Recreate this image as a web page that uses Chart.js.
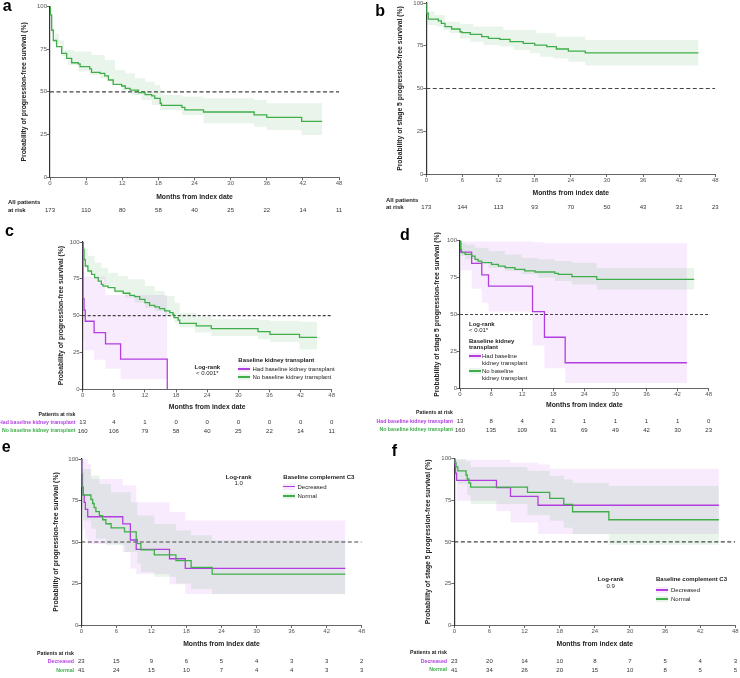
<!DOCTYPE html>
<html>
<head>
<meta charset="utf-8">
<script src="https://cdn.jsdelivr.net/npm/chart.js@4.4.1/dist/chart.umd.min.js"></script>
<style>
  body { margin: 0; background: #fff; }
  #fig { position: relative; width: 740px; height: 678px; overflow: hidden;
         font-family: "Liberation Sans", Arial, sans-serif; }
  #fig canvas { position: absolute; }
  .t { position: absolute; white-space: nowrap; color: #222; }
  .sw { position: absolute; width: 12px; height: 6px; }
  .sw i { position: absolute; left: 0; right: 0; top: 2.2px; height: 1.5px; }
</style>
</head>
<body>
<div id="fig"></div>
<script>
// ---- data ----
const months = [0, 6, 12, 18, 24, 30, 36, 42, 48];

// a: all patients, progression-free survival
const aCurve = [[0,100],[0.05,95],[0.28,86],[0.55,80],[1.1,76.4],[1.94,72.5],[2.77,69.6],[3.6,67],[4.7,66.3],[5,64.7],[6.6,63.4],[6.9,61.4],[8.3,60.8],[9.1,59.3],[9.7,56.9],[10.5,54.4],[11.9,53.4],[12.5,52],[13.3,51],[14.7,49.5],[15.8,48.3],[16.9,47.6],[17.4,46.2],[18.3,43.3],[18.5,42.1],[21.9,40.9],[22.4,39.4],[25.5,38.2],[33.9,36.5],[36,35.1],[41.8,32.7],[45.2,32.7]];
const aUpper = [[0,100],[0.3,87],[0.8,84],[1.5,80],[2.3,74.5],[4,73.5],[6.9,71.5],[9.1,68.6],[10.8,62.8],[12.5,60.8],[14.1,57.9],[15.8,55.9],[17.4,54],[18.3,52],[18.5,48.1],[21.9,47.2],[25.5,46.2],[33.9,45.2],[36,43.3],[45.2,43.3]];
const aLower = [[0,100],[0.1,88],[0.3,84],[0.8,78],[1.9,70.6],[3,65.7],[4.7,61.8],[6.6,59.8],[8.3,57.9],[10.2,55],[11.9,51],[13.6,48.1],[15.2,45.2],[16.9,42.3],[18.3,39.4],[21.9,36.5],[25.5,31.6],[33.9,29.6],[36,27.7],[41.8,24.8],[45.2,24.8]];
const aRisk = [173, 110, 80, 58, 40, 25, 22, 14, 11];

// b: all patients, stage 5 progression-free survival
const bCurve = [[0,100],[0.05,94],[0.33,90.6],[2,89.6],[2.5,88.1],[3.1,86.2],[4.2,84.8],[5.6,83.2],[5.9,82.7],[7.3,81.7],[9.2,80.3],[10.3,79.3],[12.2,78.7],[13.9,77.4],[16.1,76.4],[18,75.4],[20,74.5],[21.6,73.1],[23.6,71.9],[26.4,70.8],[45.2,70.8]];
const bUpper = [[0,100],[0.05,95],[1.4,93],[3.1,89],[5.6,87.7],[7.8,86.2],[12.8,84.2],[18.3,82.3],[21.5,80.3],[26.4,78.4],[45.2,78.4]];
const bLower = [[0,100],[0.05,87.1],[1.7,86.2],[2.8,84.2],[3.9,82.3],[5.6,79.3],[7.3,77.4],[9.5,75.4],[12.2,74.5],[14.5,72.5],[17.2,70.6],[18.9,68.6],[21.1,67.6],[23.6,65.7],[26.4,63.4],[45.2,63.4]];
const bRisk = [173, 144, 113, 93, 70, 50, 43, 31, 23];

// c: by baseline kidney transplant, progression-free survival
const cHadCurve = [[0,100],[0.05,61.5],[0.25,53.8],[0.5,46.2],[2.2,38.5],[4.4,30.8],[7.3,20.5],[16.3,0]];
const cHadUpper = [[0,100],[0.05,80],[0.3,76.5],[4.4,64],[16.3,64]];
const cHadLower = [[0,100],[0.05,33],[0.3,26.5],[2.2,20],[4.4,14],[7.3,6.8],[16.3,6.8]];
const cNoCurve = [[0,100],[0.13,95],[0.26,88],[0.5,83.7],[1,80.3],[1.7,78],[2.3,75.8],[3,73.5],[3.6,71.3],[3.9,70.1],[4.9,69],[6.2,66.7],[7.8,65.2],[9.1,63.8],[10,62.9],[11,61.1],[12,58.8],[12.9,57],[13.9,55.9],[14.8,54.8],[15.8,53.2],[16.8,52],[17.4,50.9],[17.6,48.6],[18.4,47],[18.7,44.8],[21.9,43],[24.8,41.2],[33.8,39.1],[36.1,37.3],[41.8,35.3],[45.2,35.3]];
const cNoUpper = [[0,100],[0.2,97],[0.5,95],[1,90.5],[2.3,86],[3.6,82.6],[4.9,79.2],[6.8,76.9],[8.7,74.7],[12,70.1],[13.9,66.7],[15.8,63.3],[17.7,58.8],[18.7,52],[21.9,49],[24.8,47.5],[33.8,47],[36.1,46.5],[41.8,45.9],[45.2,45.9]];
const cNoLower = [[0,100],[0.13,88],[0.4,82.6],[1,79.2],[2.3,74.7],[4.2,70.1],[6.2,65.6],[8.1,62.2],[10,58.8],[12,55.4],[13.9,53.2],[15.8,49.8],[17.7,45.2],[18.7,41.9],[21.6,38.5],[24.8,36.2],[33.8,33.9],[36.1,32.1],[41.8,27],[45.2,27]];
const cHadRisk = [13, 4, 1, 0, 0, 0, 0, 0, 0];
const cNoRisk = [160, 106, 79, 58, 40, 25, 22, 14, 11];

// d: by baseline kidney transplant, stage 5 progression-free survival
const dHadCurve = [[0,100],[0.13,92.3],[2.25,84.6],[4.2,76.9],[5.5,69.2],[14,51.9],[16.3,34.6],[20.3,17.3],[43.8,17.3]];
const dHadUpper = [[0,100],[0.13,99.5],[14,99],[16.3,98.2],[43.8,98.2]];
const dHadLower = [[0,100],[0.13,80],[2.25,67.5],[4.2,58],[5.5,52],[14,29],[16.3,13.5],[20.3,3.6],[43.8,3.6]];
const dNoCurve = [[0,100],[0.13,94],[0.3,91.9],[1,90.7],[2.25,89.6],[2.9,87.4],[3.5,86.2],[4.2,85.1],[6.1,84],[7.4,82.8],[8.7,81.7],[10.6,80.6],[12.5,79.5],[14.5,78.8],[18.3,77.9],[19,77.2],[21.6,75.6],[26.4,73.8],[45.2,73.8]];
const dNoUpper = [[0,100],[0.13,98.6],[1,97.5],[2.9,95.3],[5.5,93],[8.7,90.7],[11.9,88.5],[15.1,87.4],[18.3,86.2],[21.6,85.1],[26.4,81.7],[45.2,81.7]];
const dNoLower = [[0,100],[0.13,89.6],[1,87.4],[2.9,85.1],[5.5,81.7],[8.7,79.5],[11.9,77.2],[15.1,74.9],[18.3,72.7],[21.6,70.4],[26.4,67],[45.2,67]];
const dHadRisk = [13, 8, 4, 2, 1, 1, 1, 1, 0];
const dNoRisk = [160, 135, 109, 91, 69, 49, 42, 30, 23];

// e: by baseline complement C3, progression-free survival
const eDecCurve = [[0,100],[0.1,91.3],[0.2,82.6],[0.34,78.3],[0.5,73.9],[0.7,69.6],[1.1,65.2],[7.1,60.9],[8.4,51.2],[9.4,45.6],[15.1,39.9],[17.8,34.1],[45.2,34.1]];
const eDecUpper = [[0,100],[1.1,97],[1.65,88],[7.1,84],[9.4,74],[15.1,68],[17.8,63],[45.2,63]];
const eDecLower = [[0,100],[0.1,66],[0.34,58],[0.7,52],[1.1,48.8],[7.1,44],[8.4,34],[9.4,30.7],[15.1,24.5],[17.8,18.7],[45.2,18.7]];
const eNormCurve = [[0,100],[0.05,91.4],[0.1,83.3],[0.3,78.3],[1.65,75.6],[1.94,73.2],[2.2,70.7],[2.5,68.3],[3.1,65.9],[3.65,63.4],[4.2,61],[5.1,58.5],[7.4,56.1],[9.4,51.5],[9.6,49],[10.2,45.2],[12.5,42.2],[16.2,38.8],[18.8,34.7],[22.4,30.7],[45.2,30.7]];
const eNormUpper = [[0,100],[0.3,94],[1.65,90],[3.1,85],[5.1,80],[8.5,74],[9.6,66],[12.5,61],[16.2,57],[18.8,54],[22.4,51],[45.2,51]];
const eNormLower = [[0,100],[0.05,82],[0.1,70],[0.3,63],[1.65,58],[2.5,52],[4.2,48],[7.4,44],[9.6,37],[10.2,32],[12.5,29],[16.2,25],[18.8,21.5],[22.4,18.5],[45.2,18.5]];
const eDecRisk = [23, 15, 9, 6, 5, 4, 3, 3, 2];
const eNormRisk = [41, 24, 15, 10, 7, 4, 4, 3, 3];

// f: by baseline complement C3, stage 5 progression-free survival
const fDecCurve = [[0,100],[0.1,95.7],[0.2,91.3],[0.4,87],[7.2,82.6],[9.6,77.4],[14.3,72],[45.2,72]];
const fDecUpper = [[0,100],[0.4,99.3],[9.6,97.5],[14.3,96.5],[16.3,94],[45.2,94]];
const fDecLower = [[0,100],[0.1,88],[0.4,74.7],[7.2,68.6],[9.6,61.6],[14.3,54.7],[45.2,54.7]];
const fNormCurve = [[0,100],[0.1,97.6],[0.3,95.1],[0.6,92.7],[2,90.2],[2.2,87.8],[2.5,85.4],[2.8,82.9],[12.5,79.8],[16.3,76.2],[18.7,72.5],[20.2,68.1],[26.4,63.3],[45.2,63.3]];
const fNormUpper = [[0,100],[2,98.5],[2.8,95],[12.5,92.8],[16.3,89.8],[18.7,87.5],[20.2,85.5],[26.4,83.8],[45.2,83.8]];
const fNormLower = [[0,100],[0.1,90],[0.6,85],[2.2,78],[2.8,72.7],[12.5,66],[16.3,62.7],[18.7,58.5],[20.2,54.7],[26.4,48.3],[45.2,48.3]];
const fDecRisk = [23, 20, 14, 10, 8, 7, 5, 4, 3];
const fNormRisk = [41, 34, 26, 20, 15, 10, 8, 5, 5];

// ---- styles ----
const FONT = '"Liberation Sans", Arial, sans-serif';
const GREEN = '#3fae4a';
const PURPLE = '#b23ee0';
const GREEN_BAND = 'rgba(76,175,80,0.12)';
const PURPLE_BAND = 'rgba(210,130,245,0.16)';
const PFS = 'Probability of progression-free survival (%)';
const S5 = 'Probability of stage 5 progression-free survival (%)';

const fig = document.getElementById('fig');
const xy = pts => pts.map(([x, y]) => ({ x, y }));

function curve(pts, color) {
  return { data: xy(pts), borderColor: color, borderWidth: 1.3, stepped: true, pointRadius: 0, fill: false };
}
function band(up, lo, color) {
  return [
    { data: xy(up), borderColor: 'transparent', borderWidth: 0, stepped: true, pointRadius: 0, fill: '+1', backgroundColor: color },
    { data: xy(lo), borderColor: 'transparent', borderWidth: 0, stepped: true, pointRadius: 0, fill: false }
  ];
}
function refLine(dash) {
  return { data: [{ x: 0, y: 50 }, { x: 48, y: 50 }], borderColor: '#444', borderWidth: 1.2, borderDash: dash, pointRadius: 0, fill: false };
}

// draws the numbers-at-risk rows under each x tick
const atRiskPlugin = {
  id: 'atRisk',
  afterDraw(chart, args, opts) {
    const ctx = chart.ctx;
    const x = chart.scales.x;
    ctx.save();
    ctx.font = '6px ' + FONT;
    ctx.fillStyle = '#333';
    ctx.textAlign = 'center';
    ctx.textBaseline = 'middle';
    opts.rows.forEach(r => {
      r.values.forEach((v, i) => ctx.fillText(String(v), x.getPixelForValue(months[i]), r.y));
    });
    ctx.restore();
  }
};

function makeChart(p) {
  const canvas = document.createElement('canvas');
  canvas.width = p.w;
  canvas.height = p.h;
  canvas.style.left = p.left + 'px';
  canvas.style.top = p.top + 'px';
  fig.appendChild(canvas);

  const L = p.L - p.left, R = p.R - p.left, T = p.T - p.top, B = p.B - p.top;
  const half = 4.08; // half of title line height
  const yBoxLeft = p.yTitleX - half - p.left;
  const yW = L - yBoxLeft;
  const xBoxBottom = p.xTitleY + half - p.top;
  const xH = xBoxBottom - B;

  new Chart(canvas, {
    type: 'line',
    data: { datasets: p.datasets },
    options: {
      responsive: false,
      animation: false,
      events: [],
      layout: { autoPadding: false, padding: { left: yBoxLeft, right: p.w - R, top: T, bottom: p.h - xBoxBottom } },
      plugins: {
        legend: { display: false },
        tooltip: { enabled: false },
        atRisk: { rows: p.rows.map(r => ({ y: r.y - p.top, values: r.values })) }
      },
      scales: {
        x: {
          type: 'linear', min: 0, max: 48,
          afterFit: s => { s.height = xH; },
          ticks: { stepSize: 6, autoSkip: false, maxRotation: 0, padding: 0, color: '#555', font: { family: FONT, size: 6, lineHeight: 1 } },
          grid: { display: true, drawOnChartArea: false, drawTicks: true, tickLength: 3, color: '#666' },
          border: { display: true, color: '#666', width: 1 },
          title: { display: true, text: 'Months from index date', padding: 0, color: '#222', font: { family: FONT, size: 6.8, weight: 'bold', lineHeight: 1.2 } }
        },
        y: {
          min: 0, max: 100,
          afterFit: s => { s.width = yW; },
          ticks: { stepSize: 25, padding: 0, color: '#555', font: { family: FONT, size: 6, lineHeight: 1 } },
          grid: { display: true, drawOnChartArea: false, drawTicks: true, tickLength: 3, color: '#666' },
          border: { display: true, color: '#333', width: 1.2 },
          title: { display: true, text: p.yTitle, padding: 0, color: '#222', font: { family: FONT, size: 6.8, weight: 'bold', lineHeight: 1.2 } }
        }
      }
    },
    plugins: [atRiskPlugin]
  });
}

function txt(x, y, s, o = {}) {
  const d = document.createElement('div');
  const size = o.size || 6;
  d.className = 't';
  d.textContent = s;
  d.style.fontSize = size + 'px';
  d.style.lineHeight = size + 'px';
  d.style.top = (y - size / 2) + 'px';
  if (o.bold) d.style.fontWeight = 'bold';
  if (o.color) d.style.color = o.color;
  if (o.align === 'center') { d.style.left = x + 'px'; d.style.transform = 'translateX(-50%)'; }
  else if (o.align === 'right') { d.style.right = (740 - x) + 'px'; }
  else d.style.left = x + 'px';
  fig.appendChild(d);
}
function swatch(x, y, line, fill) {
  const d = document.createElement('div');
  d.className = 'sw';
  d.style.left = x + 'px';
  d.style.top = (y - 3) + 'px';
  d.style.background = fill;
  const i = document.createElement('i');
  i.style.background = line;
  d.appendChild(i);
  fig.appendChild(d);
}
function letter(x, top, s) {
  const d = document.createElement('div');
  d.className = 't';
  d.textContent = s;
  d.style.cssText += 'font-size:16px;line-height:16px;font-weight:bold;color:#000;left:' + x + 'px;top:' + top + 'px';
  fig.appendChild(d);
}

// ---- panels ----
makeChart({
  left: 0, top: 0, w: 370, h: 220, L: 50, R: 339, T: 6.3, B: 177.3, yTitleX: 24, xTitleY: 197, yTitle: PFS,
  rows: [{ y: 210, values: aRisk }],
  datasets: [curve(aCurve, GREEN), refLine([4, 2.5]), ...band(aUpper, aLower, GREEN_BAND)]
});
makeChart({
  left: 370, top: 0, w: 370, h: 220, L: 426.3, R: 715.3, T: 3, B: 174, yTitleX: 400, xTitleY: 193.3, yTitle: S5,
  rows: [{ y: 207, values: bRisk }],
  datasets: [curve(bCurve, GREEN), refLine([4, 2.5]), ...band(bUpper, bLower, GREEN_BAND)]
});
makeChart({
  left: 0, top: 220, w: 370, h: 220, L: 82.7, R: 331.7, T: 242, B: 389.3, yTitleX: 61, xTitleY: 406.7, yTitle: PFS,
  rows: [{ y: 422.7, values: cHadRisk }, { y: 431, values: cNoRisk }],
  datasets: [curve(cNoCurve, GREEN), curve(cHadCurve, PURPLE), refLine([3, 2]),
             ...band(cNoUpper, cNoLower, GREEN_BAND), ...band(cHadUpper, cHadLower, PURPLE_BAND)]
});
makeChart({
  left: 370, top: 220, w: 370, h: 220, L: 460, R: 708.7, T: 240.7, B: 388.3, yTitleX: 437.5, xTitleY: 405, yTitle: S5,
  rows: [{ y: 421.7, values: dHadRisk }, { y: 430, values: dNoRisk }],
  datasets: [curve(dNoCurve, GREEN), curve(dHadCurve, PURPLE), refLine([3, 2]),
             ...band(dNoUpper, dNoLower, GREEN_BAND), ...band(dHadUpper, dHadLower, PURPLE_BAND)]
});
makeChart({
  left: 0, top: 440, w: 370, h: 238, L: 81.3, R: 361.7, T: 459, B: 625, yTitleX: 56, xTitleY: 644, yTitle: PFS,
  rows: [{ y: 661.3, values: eDecRisk }, { y: 670.3, values: eNormRisk }],
  datasets: [curve(eNormCurve, GREEN), curve(eDecCurve, PURPLE), refLine([4, 2.5]),
             ...band(eNormUpper, eNormLower, GREEN_BAND), ...band(eDecUpper, eDecLower, PURPLE_BAND)]
});
makeChart({
  left: 370, top: 440, w: 370, h: 238, L: 454.3, R: 735.3, T: 458.7, B: 625, yTitleX: 428.5, xTitleY: 644, yTitle: S5,
  rows: [{ y: 661.3, values: fDecRisk }, { y: 670, values: fNormRisk }],
  datasets: [curve(fNormCurve, GREEN), curve(fDecCurve, PURPLE), refLine([4, 2.5]),
             ...band(fNormUpper, fNormLower, GREEN_BAND), ...band(fDecUpper, fDecLower, PURPLE_BAND)]
});

// ---- panel letters ----
letter(2.7, -1.8, 'a');
letter(375.3, 3.2, 'b');
letter(5, 223.2, 'c');
letter(400, 226.5, 'd');
letter(1.7, 439.2, 'e');
letter(391.7, 443.2, 'f');

// ---- at-risk row labels ----
txt(8, 202, 'All patients', { bold: true });
txt(8, 210, 'at risk', { bold: true });
txt(386, 200, 'All patients', { bold: true });
txt(386, 207, 'at risk', { bold: true });

txt(75.5, 414.3, 'Patients at risk', { bold: true, size: 5.2, align: 'right' });
txt(75.5, 422.7, 'Had baseline kidney transplant', { bold: true, size: 5.2, align: 'right', color: PURPLE });
txt(75.5, 431, 'No baseline kidney transplant', { bold: true, size: 5.2, align: 'right', color: GREEN });

txt(453, 412.7, 'Patients at risk', { bold: true, size: 5.2, align: 'right' });
txt(453, 421.7, 'Had baseline kidney transplant', { bold: true, size: 5.2, align: 'right', color: PURPLE });
txt(453, 430, 'No baseline kidney transplant', { bold: true, size: 5.2, align: 'right', color: GREEN });

txt(74, 653.3, 'Patients at risk', { bold: true, size: 5.2, align: 'right' });
txt(74, 661.3, 'Decreased', { bold: true, size: 5.2, align: 'right', color: PURPLE });
txt(74, 670.3, 'Normal', { bold: true, size: 5.2, align: 'right', color: GREEN });

txt(447, 653, 'Patients at risk', { bold: true, size: 5.2, align: 'right' });
txt(447, 661.3, 'Decreased', { bold: true, size: 5.2, align: 'right', color: PURPLE });
txt(447, 670, 'Normal', { bold: true, size: 5.2, align: 'right', color: GREEN });

// ---- log-rank and legends ----
txt(207.3, 366.7, 'Log-rank', { bold: true, align: 'center' });
txt(207.3, 373.3, '< 0.001*', { align: 'center' });
txt(238.3, 360, 'Baseline kidney transplant', { bold: true });
swatch(238.3, 369, PURPLE, PURPLE_BAND);
txt(252.5, 369, 'Had baseline kidney transplant');
swatch(238.3, 377.3, GREEN, GREEN_BAND);
txt(252.5, 377.3, 'No baseline kidney transplant');

txt(469, 323.7, 'Log-rank', { bold: true });
txt(469, 329.5, '< 0.01*');
txt(469, 340.7, 'Baseline kidney', { bold: true });
txt(469, 346.7, 'transplant', { bold: true });
swatch(468.5, 356, PURPLE, PURPLE_BAND);
txt(482, 356, 'Had baseline');
txt(482, 363.3, 'kidney transplant');
swatch(468.5, 371, GREEN, GREEN_BAND);
txt(482, 371, 'No baseline');
txt(482, 377.5, 'kidney transplant');

txt(238.7, 476.7, 'Log-rank', { bold: true, align: 'center' });
txt(238.7, 483.3, '1.0', { align: 'center' });
txt(283.3, 476.7, 'Baseline complement C3', { bold: true });
swatch(283.3, 486.7, PURPLE, PURPLE_BAND);
txt(297.5, 486.7, 'Decreased');
swatch(283.3, 496, GREEN, GREEN_BAND);
txt(297.5, 496, 'Normal');

txt(610.7, 579.3, 'Log-rank', { bold: true, align: 'center' });
txt(610.7, 586, '0.9', { align: 'center' });
txt(656, 579.3, 'Baseline complement C3', { bold: true });
swatch(656, 590, PURPLE, PURPLE_BAND);
txt(671, 590, 'Decreased');
swatch(656, 599.3, GREEN, GREEN_BAND);
txt(671, 599.3, 'Normal');
</script>
</body>
</html>
